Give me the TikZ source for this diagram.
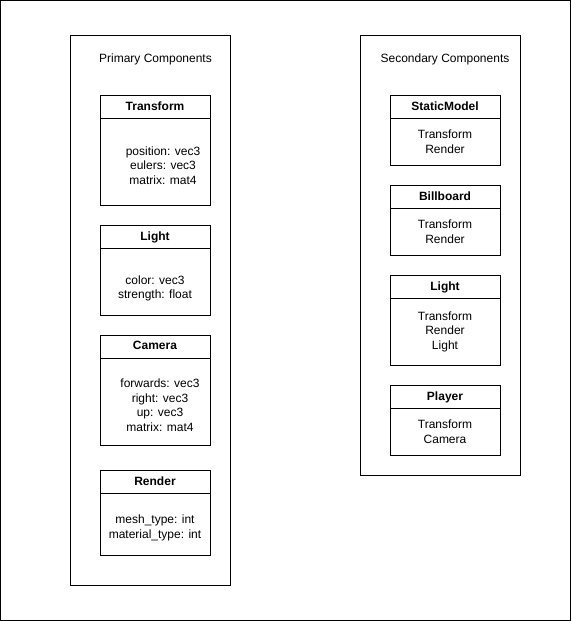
\documentclass[tikz,border=0pt]{standalone}
\usepackage{fontspec}
\setmainfont{Liberation Sans}
\usetikzlibrary{positioning}

\begin{document}
\begin{tikzpicture}[
	x=1pt,y=-1pt,
	frame/.style={draw,line width=1pt,minimum width=160pt,inner sep=0pt,outer sep=0pt},
	title/.style={font=\fontsize{12}{14.5}\selectfont},
	head/.style={draw,line width=1pt,minimum width=110pt,minimum height=23pt,inner sep=0pt,outer sep=0pt,anchor=north,text depth=1.5pt,font=\bfseries\fontsize{12}{14.5}\selectfont},
	body/.style={draw,line width=1pt,minimum width=110pt,inner sep=0pt,outer sep=0pt,below=0pt of #1},
	txt/.style={align=center,inner sep=0pt,font=\fontsize{12}{14.5}\selectfont}
	]
	\useasboundingbox (0,0) rectangle (571,621);
	\draw[line width=1.2pt] (0.6,0.6) rectangle (570.2,620.2);
	
	% primary components
	\node[frame,minimum height=550pt] (prim) at (150,310) {};
	\node[title] (primt) at (155.5,59) {Primary Components};
	
	\node[head] (tf) at (155,95) {Transform};
	\node[body=tf,minimum height=87pt] (tfb) {};
	\node[txt] at ([xshift=8pt,yshift=-4pt]tfb.center) {position: vec3\\eulers: vec3\\matrix: mat4};
	
	\node[head] (li) at (155,225) {Light};
	\node[body=li,minimum height=67pt] (lib) {};
	\node[txt] at ([yshift=-7pt]lib.center) {color: vec3\\strength: float};
	
	\node[head] (ca) at (155,335) {Camera};
	\node[body=ca,minimum height=87pt] (cab) {};
	\node[txt] at ([xshift=5pt,yshift=-3.5pt]cab.center) {forwards: vec3\\right: vec3\\up: vec3\\matrix: mat4};
	
	\node[head] (re) at (155,470) {Render};
	\node[body=re,minimum height=62pt] (reb) {};
	\node[txt] at ([yshift=-4pt]reb.center) {mesh\_type: int\\material\_type: int};
	
	% secondary components
	\node[frame,minimum height=440pt] (sec) at (440,255) {};
	\node[title] (sect) at (445,59) {Secondary Components};
	
	\node[head] (sm) at (445,95) {StaticModel};
	\node[body=sm,minimum height=47pt] (smb) {};
	\node[txt] at (smb.center) {Transform\\Render};
	
	\node[head] (bb) at (445,185) {Billboard};
	\node[body=bb,minimum height=47pt] (bbb) {};
	\node[txt] at (bbb.center) {Transform\\Render};
	
	\node[head] (lt) at (445,275) {Light};
	\node[body=lt,minimum height=67pt] (ltb) {};
	\node[txt] at (ltb.center) {Transform\\Render\\Light};
	
	\node[head] (pl) at (445,385) {Player};
	\node[body=pl,minimum height=47pt] (plb) {};
	\node[txt] at (plb.center) {Transform\\Camera};
\end{tikzpicture}
\end{document}
